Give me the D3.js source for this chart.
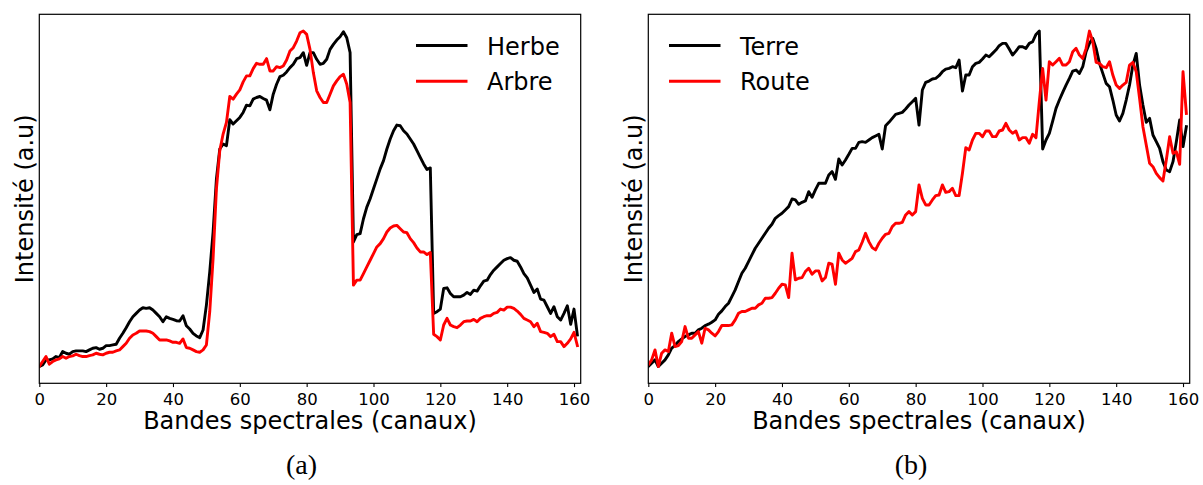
<!DOCTYPE html>
<html>
<head>
<meta charset="utf-8">
<script src="https://cdn.jsdelivr.net/npm/d3@7"></script>
<style>
  html, body { margin: 0; padding: 0; background: #fff; }
  svg { display: block; }
  text { font-family: "DejaVu Sans", sans-serif; fill: #000; }
  .caption { font-family: "Liberation Serif", "DejaVu Serif", serif; }
</style>
</head>
<body>
<svg id="fig" width="1203" height="485"></svg>
<script>
// Spectral signatures, one intensity value per channel (0..161), arbitrary units.
const herbe = [15,20,35,35,38,45,42,60,55,52,
  60,62,62,62,60,65,70,72,67,70,
  78,78,80,82,100,115,132,150,165,175,
  185,192,190,192,185,175,165,150,165,160,
  157,153,152,168,138,128,115,107,102,125,
  200,300,420,580,670,685,680,758,745,755,
  765,780,802,800,820,825,828,822,817,788,
  835,865,888,892,902,915,925,942,945,960,
  922,960,960,940,925,928,940,970,985,998,
  1008,1023,1005,960,390,412,415,460,495,520,
  550,580,610,635,670,700,725,742,740,725,
  715,700,685,665,645,625,608,613,175,180,
  188,250,252,235,225,225,225,230,238,232,
  245,242,258,272,275,292,305,315,325,335,
  340,343,335,332,315,295,282,260,238,248,
  218,215,195,175,195,165,155,175,198,142,
  188,110];

const arbre = [15,30,45,22,30,35,38,45,40,45,
  47,52,48,45,45,48,50,55,52,50,
  55,58,58,62,65,75,85,100,110,115,
  122,122,122,120,115,105,95,95,95,92,
  88,88,85,98,72,70,65,60,58,65,
  80,180,340,550,665,715,750,828,820,835,
  848,872,890,890,912,928,925,925,942,905,
  905,918,915,920,938,965,975,995,1020,1025,
  1015,970,900,845,825,810,810,835,860,875,
  888,895,865,810,260,275,275,295,315,335,
  355,375,385,400,420,432,438,440,430,420,
  418,400,388,372,360,360,352,358,112,105,
  95,140,160,140,135,132,140,150,152,152,
  157,150,160,165,168,168,175,178,188,185,
  194,194,190,182,172,160,155,150,135,145,
  120,118,115,105,112,90,90,75,85,98,
  118,78];

const terre = [15,25,35,15,25,35,50,70,78,90,
  98,105,110,115,115,125,130,138,142,148,
  155,172,182,195,205,225,245,270,295,310,
  330,350,370,385,400,415,430,442,460,468,
  475,485,495,518,515,502,508,512,540,523,
  545,565,565,565,590,600,577,638,620,635,
  652,670,670,688,690,688,695,702,707,712,
  668,738,748,760,772,775,778,788,800,810,
  820,740,845,868,872,878,880,888,900,908,
  910,915,912,935,842,890,890,915,925,928,
  938,950,945,955,965,978,985,985,968,950,
  962,975,975,970,985,990,1012,1022,668,695,
  715,752,790,815,838,860,880,902,905,895,
  915,960,985,1000,970,925,895,865,855,815,
  770,752,775,815,860,920,955,860,800,748,
  760,710,690,670,630,605,600,630,690,755,
  675,735];

const route = [20,35,65,15,55,65,60,115,75,78,
  90,135,100,100,110,120,85,130,125,115,
  107,120,138,138,138,140,155,175,180,180,
  185,190,190,200,205,220,220,222,235,250,
  262,260,222,355,275,280,282,300,310,292,
  302,302,272,282,325,322,262,355,335,325,
  332,340,360,365,388,415,390,372,365,385,
  400,412,415,435,445,445,448,470,480,470,
  480,560,520,500,500,515,528,530,560,538,
  540,550,528,528,595,672,665,695,715,715,
  705,722,722,705,705,722,725,745,725,715,
  722,695,702,702,685,712,702,810,910,815,
  930,920,930,940,920,920,930,960,970,950,
  940,970,1022,990,928,925,915,912,930,890,
  860,850,860,868,920,928,900,820,735,680,
  625,615,595,582,572,635,705,655,660,622,
  900,775];

const xTicks = [0, 20, 40, 60, 80, 100, 120, 140, 160];
const xLabel = "Bandes spectrales (canaux)";
const yLabel = "Intensité (a.u)";

const panels = [
  { left: 39.3, caption: "(a)", captionX: 301.5,
    series: [{ name: "Herbe", values: herbe, color: "#000" },
             { name: "Arbre", values: arbre, color: "#ff0000" }],
    legendX: 416 },
  { left: 648.3, caption: "(b)", captionX: 911,
    series: [{ name: "Terre", values: terre, color: "#000" },
             { name: "Route", values: route, color: "#ff0000" }],
    legendX: 669 }
];

const plotW = 541.4, plotTop = 14.3, plotBottom = 383.3;
const lineW = 2.9;
const svg = d3.select("#fig");

panels.forEach((p, i) => {
  const g = svg.append("g").attr("transform", `translate(${p.left},0)`);

  const x = d3.scaleLinear().domain([0, 162]).range([0, plotW]);
  const all = p.series.flatMap(s => s.values);
  const [lo, hi] = d3.extent(all);
  const pad = (hi - lo) * 0.05;
  const y = d3.scaleLinear().domain([lo - pad, hi + pad]).range([plotBottom, plotTop]);

  const clipId = `clip${i}`;
  g.append("clipPath").attr("id", clipId)
    .append("rect").attr("x", 0).attr("y", plotTop)
    .attr("width", plotW).attr("height", plotBottom - plotTop);

  const line = d3.line().x((d, k) => x(k)).y(d => y(d));

  p.series.forEach(s => {
    g.append("path")
      .attr("clip-path", `url(#${clipId})`)
      .attr("d", line(s.values))
      .attr("fill", "none")
      .attr("stroke", s.color)
      .attr("stroke-width", lineW)
      .attr("stroke-linejoin", "round")
      .attr("stroke-linecap", "square");
  });

  // x axis with ticks and labels
  const xAxis = d3.axisBottom(x).tickValues(xTicks).tickSize(3.8).tickPadding(4).tickFormat(d3.format("d"));
  const ax = g.append("g").attr("transform", `translate(0,${plotBottom})`).call(xAxis);
  ax.select(".domain").remove();
  ax.selectAll(".tick line").attr("stroke", "#000").attr("stroke-width", 1.1);
  ax.selectAll(".tick text")
    .attr("font-family", "DejaVu Sans")
    .attr("font-size", 16.5)
    .attr("fill", "#000")
    .attr("dy", null)
    .attr("y", 21.7);

  // frame
  g.append("rect")
    .attr("x", 0).attr("y", plotTop)
    .attr("width", plotW).attr("height", plotBottom - plotTop)
    .attr("fill", "none").attr("stroke", "#000").attr("stroke-width", 1.2);

  // axis titles
  g.append("text")
    .attr("x", plotW / 2).attr("y", 429)
    .attr("text-anchor", "middle")
    .attr("font-size", 24)
    .text(xLabel);

  g.append("text")
    .attr("transform", `translate(-6.6,${(plotTop + plotBottom) / 2}) rotate(-90)`)
    .attr("text-anchor", "middle")
    .attr("font-size", 24)
    .text(yLabel);

  // legend
  const lg = svg.append("g");
  p.series.forEach((s, k) => {
    const cy = 45.5 + k * 35.7;
    lg.append("line")
      .attr("x1", p.legendX).attr("x2", p.legendX + 51.5)
      .attr("y1", cy).attr("y2", cy)
      .attr("stroke", s.color).attr("stroke-width", lineW);
    lg.append("text")
      .attr("x", p.legendX + 71).attr("y", cy + 9)
      .attr("font-size", 24)
      .text(s.name);
  });

  // sub-figure caption
  svg.append("text")
    .attr("class", "caption")
    .attr("x", p.captionX).attr("y", 474)
    .attr("text-anchor", "middle")
    .attr("font-size", 28)
    .text(p.caption);
});
</script>
</body>
</html>
